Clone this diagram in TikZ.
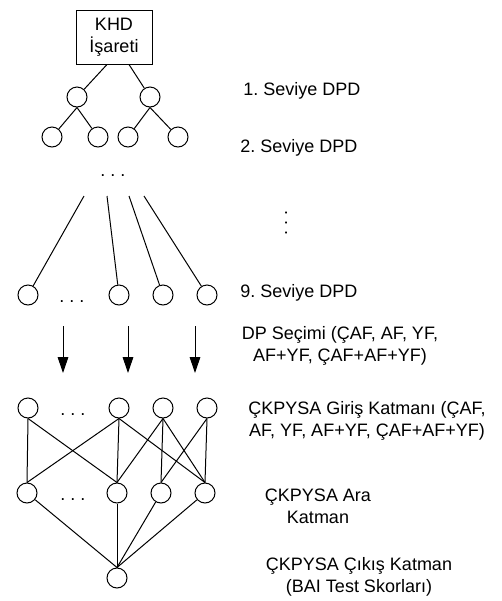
\documentclass[tikz,border=0pt]{standalone}
\usepackage{fontspec}
\setmainfont{Liberation Sans}
\usepackage{xcolor}
\usetikzlibrary{arrows.meta,calc}
\frenchspacing
\tikzset{
  neuron/.style={circle, draw, line width=0.75pt, minimum size=15pt, inner sep=0pt},
  box/.style={rectangle, draw, line width=0.75pt, align=center, minimum width=57pt, minimum height=40.5pt, inner sep=2pt},
  lbl/.style={align=center, inner sep=0pt},
  dots/.style={inner sep=0pt, anchor=base},
  conn/.style={line width=0.75pt},
  arr/.style={-{Triangle[length=12pt,width=8pt]}, line width=0.75pt},
}

\begin{document}
\begin{tikzpicture}[x=0.75pt, y=-0.75pt, font=\fontsize{13.5}{16.5}\selectfont]
    \useasboundingbox (0,0) rectangle (501,601);

    % DPD tree
    \node[box] (khd) at (114,37) {KHD\\İşareti};
    \node[neuron] (a1) at (77,97) {};
    \node[neuron] (a2) at (150,97) {};
    \node[neuron] (b1) at (52,137) {};
    \node[neuron] (b2) at (98,137) {};
    \node[neuron] (b3) at (128,137) {};
    \node[neuron] (b4) at (178,137) {};
    \draw[conn] ($(khd.south)+(-7,0)$) -- (a1);
    \draw[conn] ($(khd.south)+(15,0)$) -- (a2);
    \draw[conn] (a1.south) -- (b1);
    \draw[conn] (a1.south) -- (b2);
    \draw[conn] (a2.south) -- (b3);
    \draw[conn] (a2.south) -- (b4);
    \node[dots] (bdots) at (113,176) {. . .};

    % level 9
    \coordinate (c1) at (84,196);
    \coordinate (c2) at (107,196);
    \coordinate (c3) at (129,196);
    \coordinate (c4) at (144,196);
    \node[neuron] (d1) at (28,295) {};
    \node[neuron] (d2) at (119,295) {};
    \node[neuron] (d3) at (163,295) {};
    \node[neuron] (d4) at (207,295) {};
    \node[dots] (ddots) at (72,302) {. . .};
    \foreach \i in {1,...,4}
      \draw[conn] (c\i) -- (d\i);

    % selection arrows
    \foreach \x/\n in {63/1,128/2,195/3} {
      \coordinate (s\n) at (\x,326);
      \coordinate (t\n) at (\x,373);
      \draw[arr] (s\n) -- (t\n);
    }

    % MLP
    \node[neuron] (i1) at (28,408) {};
    \node[neuron] (i2) at (119,408) {};
    \node[neuron] (i3) at (163,408) {};
    \node[neuron] (i4) at (207,408) {};
    \node[dots] (idots) at (73,415) {. . .};
    \node[neuron] (h1) at (27,493) {};
    \node[neuron] (h2) at (117,493) {};
    \node[neuron] (h3) at (161,493) {};
    \node[neuron] (h4) at (205,493) {};
    \node[dots] (hdots) at (73,500) {. . .};
    \node[neuron] (o) at (117,578) {};
    \foreach \a/\b in {1/1,1/2,2/1,2/2,2/4,3/2,3/3,3/4,4/3,4/4}
      \draw[conn] (i\a.south) -- (h\b.north);
    \foreach \b in {1,...,4}
      \draw[conn] (h\b) -- (o.north);

    % labels
    \node[lbl, anchor=west] (l1) at (243,91) {1. Seviye DPD};
    \node[lbl, anchor=west] (l2) at (240,148) {2. Seviye DPD};
    \node[dots, rotate=90] (lv) at (287,223) {. . .};
    \node[lbl, anchor=west] (l9) at (240,293) {9. Seviye DPD};
    \node[lbl] (lsel) at (340,346) {DP Seçimi (ÇAF, AF, YF,\\AF+YF, ÇAF+AF+YF)};
    \node[lbl] (lin) at (367,421) {ÇKPYSA Giriş Katmanı (ÇAF,\\AF, YF, AF+YF, ÇAF+AF+YF)};
    \node[lbl] (lhid) at (318,506) {ÇKPYSA Ara\\Katman};
    \node[lbl] (lout) at (359,577) {ÇKPYSA Çıkış Katman\\(BAI Test Skorları)};
  \end{tikzpicture}
\end{document}
